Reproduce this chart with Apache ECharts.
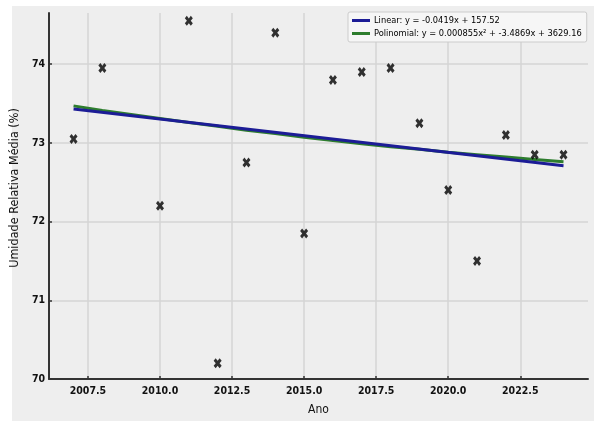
<!DOCTYPE html>
<html>
<head>
<meta charset="utf-8">
<script src="https://cdn.jsdelivr.net/npm/echarts@6/dist/echarts.min.js"></script>
<style>
  html, body { margin: 0; padding: 0; background: #ffffff; }
  #chart { width: 594px; height: 421px; }
</style>
</head>
<body>
<div id="chart"></div>
<script>
// Annual mean relative humidity observations
const years = [2007, 2008, 2010, 2011, 2012, 2013, 2014, 2015, 2016, 2017, 2018, 2019, 2020, 2021, 2022, 2023, 2024];
const humidity = [73.05, 73.95, 72.2, 74.55, 70.2, 72.75, 74.4, 71.85, 73.8, 73.9, 73.95, 73.25, 72.4, 71.5, 73.1, 72.85, 72.85];

// Linear trend (y = -0.0419x + 157.52), endpoints
const linearYears = [2007, 2024];
const linearValues = [73.43, 72.71];

// Second-order polynomial trend, sampled yearly
const polyYears = [2007, 2008, 2009, 2010, 2011, 2012, 2013, 2014, 2015, 2016, 2017, 2018, 2019, 2020, 2021, 2022, 2023, 2024];
const polyValues = [73.47, 73.41, 73.36, 73.31, 73.26, 73.21, 73.16, 73.12, 73.07, 73.03, 72.99, 72.95, 72.92, 72.88, 72.85, 72.82, 72.79, 72.76];

const xTicks = [2007.5, 2010, 2012.5, 2015, 2017.5, 2020, 2022.5];
const yTicks = [70, 71, 72, 73, 74];

const linearLabel = 'Linear: y = -0.0419x + 157.52';
const polyLabel = 'Polinomial: y = 0.000855x² + -3.4869x + 3629.16';

const FONT = '"Liberation Sans Narrow", "DejaVu Sans Condensed", "Liberation Sans", sans-serif';
const pair = (xs, ys) => xs.map((x, i) => [x, ys[i]]);

const chart = echarts.init(document.getElementById('chart'), null, { renderer: 'canvas' });

chart.setOption({
  backgroundColor: '#ffffff',
  animation: false,
  graphic: [
    { type: 'rect', z: -10, silent: true, shape: { x: 12, y: 6, width: 582, height: 415 }, style: { fill: '#eeeeee' } }
  ],
  grid: { left: 45, right: 6, top: 13, bottom: 38, containLabel: false },
  legend: {
    left: 348, top: 12,
    orient: 'vertical',
    itemGap: 4,
    itemWidth: 18, itemHeight: 3,
    padding: [4, 5, 4, 4],
    backgroundColor: '#f6f6f6',
    borderColor: '#cccccc', borderWidth: 1, borderRadius: 2,
    textStyle: { fontFamily: FONT, fontSize: 9.2, color: '#000000', padding: [0, 0, 0, -1] },
    data: [
      { name: linearLabel, icon: 'rect', itemStyle: { color: '#1c1c96' } },
      { name: polyLabel, icon: 'rect', itemStyle: { color: '#2e7d2e' } }
    ]
  },
  xAxis: {
    type: 'value',
    min: 2006.15, max: 2024.85,
    name: 'Ano', nameLocation: 'middle', nameGap: 25,
    nameTextStyle: { fontFamily: FONT, fontSize: 12, color: '#111111' },
    axisLine: { show: true, onZero: false, lineStyle: { color: '#333333', width: 2 } },
    axisTick: { show: true, inside: true, length: 3, customValues: xTicks, lineStyle: { color: '#333333', width: 1.5 } },
    axisLabel: {
      customValues: xTicks, margin: 7,
      fontFamily: FONT, fontSize: 10.5, fontWeight: 'bold', color: '#111111',
      formatter: v => Number(v).toFixed(1)
    },
    splitLine: { show: true, lineStyle: { color: '#d4d4d4', width: 1.5 } }
  },
  yAxis: {
    type: 'value',
    min: 70, max: 74.65,
    name: 'Umidade Relativa Média (%)', nameLocation: 'middle', nameGap: 23,
    nameTextStyle: { fontFamily: FONT, fontSize: 12.5, color: '#111111', padding: [0, 0, 0, 16] },
    axisLine: { show: true, onZero: false, lineStyle: { color: '#333333', width: 2 } },
    axisTick: { show: true, inside: true, length: 3, customValues: yTicks, lineStyle: { color: '#333333', width: 1.5 } },
    axisLabel: {
      customValues: yTicks, margin: 4,
      fontFamily: FONT, fontSize: 10.5, fontWeight: 'bold', color: '#111111'
    },
    splitLine: { show: true, lineStyle: { color: '#d4d4d4', width: 1.5 } }
  },
  series: [
    {
      name: polyLabel,
      type: 'line',
      data: pair(polyYears, polyValues),
      showSymbol: false,
      smooth: false,
      lineStyle: { color: '#2e7d2e', width: 3 },
      itemStyle: { color: '#2e7d2e' },
      z: 3
    },
    {
      name: linearLabel,
      type: 'line',
      data: pair(linearYears, linearValues),
      showSymbol: false,
      lineStyle: { color: '#1c1c96', width: 3 },
      itemStyle: { color: '#1c1c96' },
      z: 4
    },
    {
      name: 'Observado',
      type: 'scatter',
      data: pair(years, humidity),
      symbol: 'path://M2.5,0 L5,2.6 L7.5,0 L10,2.5 L7.4,5 L10,7.5 L7.5,10 L5,7.4 L2.5,10 L0,7.5 L2.6,5 L0,2.5 Z',
      symbolSize: [8, 10],
      itemStyle: { color: '#000000' },
      z: 5
    }
  ]
});
</script>
</body>
</html>
